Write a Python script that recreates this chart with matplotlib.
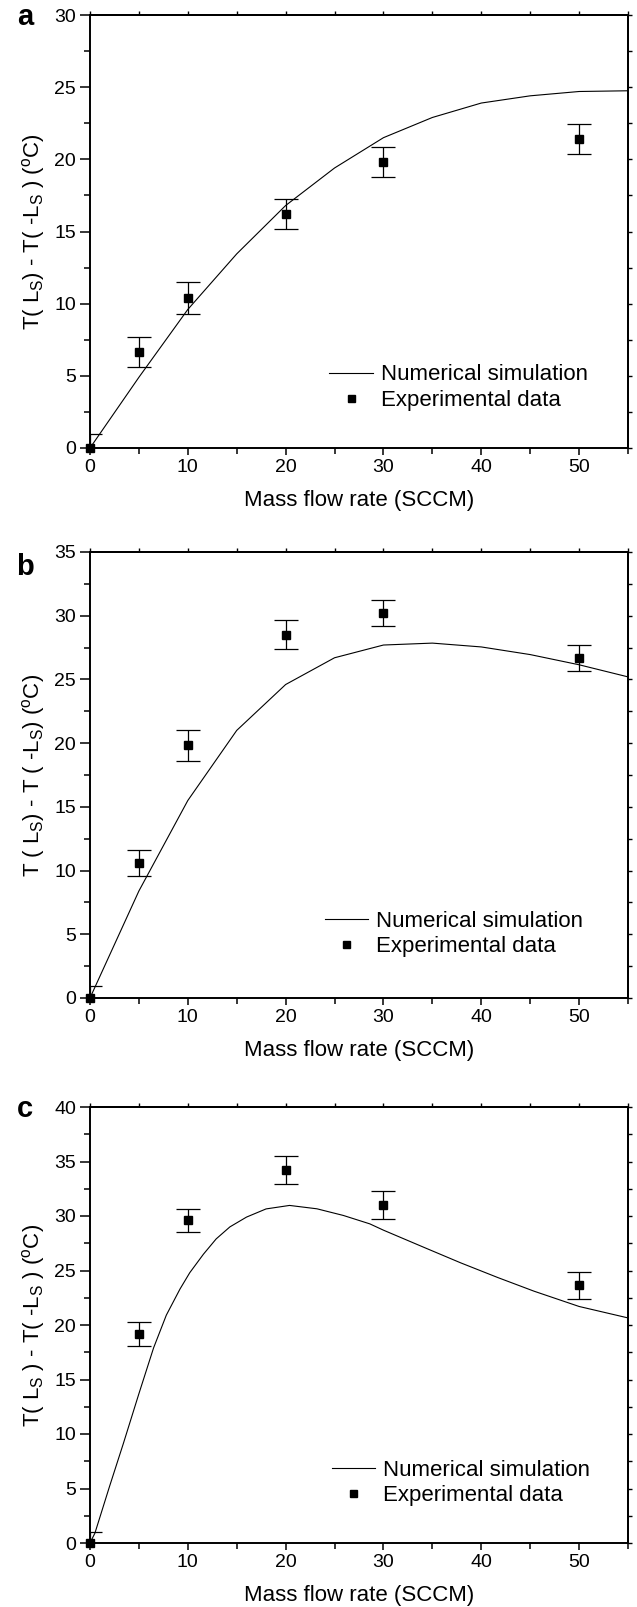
import matplotlib
matplotlib.use("Agg")
import matplotlib.pyplot as plt
from matplotlib.ticker import MultipleLocator

plt.rcParams['font.family'] = ['Liberation Sans', 'DejaVu Sans']
plt.rcParams['mathtext.fontset'] = 'custom'
plt.rcParams['mathtext.rm'] = 'Liberation Sans'
plt.rcParams['mathtext.it'] = 'Liberation Sans:italic'

# experimental points (same flow rates in every panel)
flow_exp = [0, 5, 10, 20, 30, 50]
a_exp = [0, 6.66, 10.4, 16.22, 19.8, 21.41]
a_err = [1.0, 1.02, 1.1, 1.04, 1.04, 1.05]
b_exp = [0, 10.58, 19.82, 28.51, 30.21, 26.68]
b_err = [0.97, 1.03, 1.2, 1.14, 1.05, 1.03]
c_exp = [0, 19.14, 29.6, 34.2, 31.02, 23.63]
c_err = [1.0, 1.1, 1.08, 1.3, 1.27, 1.22]

# numerical simulation curves
flow_sim_ab = [0, 5, 10, 15, 20, 25, 30, 35, 40, 45, 50, 55]
a_sim = [0, 4.9, 9.6, 13.45, 16.8, 19.4, 21.5, 22.9, 23.9, 24.4, 24.7, 24.75]
b_sim = [0, 8.4, 15.5, 21.0, 24.6, 26.7, 27.7, 27.85, 27.55, 26.95, 26.15, 25.2]
flow_sim_c = [0, 0.5, 2, 3.4, 5, 6.5, 7.8, 9.2, 10.2, 11.6, 12.9, 14.3, 16,
              18, 20.4, 23.2, 25.9, 28.6, 30, 34.2, 37.9, 41.7, 45.4, 50, 55]
c_sim = [0, 0.9, 5.2, 9.1, 13.7, 17.9, 20.9, 23.3, 24.8, 26.5, 27.9, 29.0, 29.9,
         30.65, 30.97, 30.66, 30.05, 29.28, 28.7, 27.1, 25.7, 24.35, 23.1, 21.7,
         20.65]

ylabels = [
    r"T( L$_\mathrm{S}$) - T( -L$_\mathrm{S}$ ) ($^\mathrm{o}$C)",
    r"T ( L$_\mathrm{S}$) - T ( -L$_\mathrm{S}$) ($^\mathrm{o}$C)",
    r"T( L$_\mathrm{S}$ ) - T( -L$_\mathrm{S}$ ) ($^\mathrm{o}$C)",
]

W, H = 637, 1607
fig = plt.figure(figsize=(W / 100, H / 100), dpi=100)

# pixel boxes: left, top, right, bottom
boxes = [(90, 15, 628, 448), (90, 552, 628, 998), (90, 1107, 628, 1543)]
ymaxes = [30, 35, 40]
panels = [
    (flow_sim_ab, a_sim, a_exp, a_err),
    (flow_sim_ab, b_sim, b_exp, b_err),
    (flow_sim_c, c_sim, c_exp, c_err),
]
legend_pos = [(0.445, 0.193), (0.436, 0.196), (0.449, 0.191)]
letters = ['a', 'b', 'c']
letter_y = [25, 575, 1117]

for i, (box, ymax, (sx, sy, ey, ee)) in enumerate(zip(boxes, ymaxes, panels)):
    l, t, r, b = box
    ax = fig.add_axes([l / W, 1 - b / H, (r - l) / W, (b - t) / H])

    line, = ax.plot(sx, sy, color='black', lw=0.8, solid_joinstyle='round',
                    label='Numerical simulation')
    ax.errorbar(flow_exp, ey, yerr=ee, fmt='none', ecolor='black',
                elinewidth=0.9, capsize=8.5, capthick=0.9)
    pts, = ax.plot(flow_exp, ey, 's', color='black', ms=5.6, clip_on=False,
                   zorder=5, label='Experimental data')

    ax.set_xlim(0, 55)
    ax.set_ylim(0, ymax)
    ax.xaxis.set_major_locator(MultipleLocator(10))
    ax.xaxis.set_minor_locator(MultipleLocator(5))
    ax.yaxis.set_major_locator(MultipleLocator(5))
    ax.yaxis.set_minor_locator(MultipleLocator(2.5))
    for s in ax.spines.values():
        s.set_linewidth(1.4)
    ax.tick_params(axis='both', which='both', direction='out', width=1.1,
                   labelsize=14)
    ax.tick_params(axis='x', which='major', length=5, pad=3)
    ax.tick_params(axis='x', which='minor', length=4)
    ax.tick_params(axis='y', which='major', length=7, pad=3)
    ax.tick_params(axis='y', which='minor', length=4)

    # short ticks on the top and right frame
    top = ax.secondary_xaxis('top')
    top.xaxis.set_major_locator(MultipleLocator(5))
    top.tick_params(length=3, width=1, labeltop=False)
    right = ax.secondary_yaxis('right')
    right.yaxis.set_major_locator(MultipleLocator(2.5))
    right.tick_params(length=3, width=1, labelright=False)
    for sec in (top, right):
        for s in sec.spines.values():
            s.set_linewidth(1.4)

    ax.set_xlabel("Mass flow rate (SCCM)", fontsize=16, labelpad=10)
    ax.set_ylabel(ylabels[i], fontsize=16)
    ax.yaxis.set_label_coords(-0.079, 0.5)

    ax.legend(handles=[line, pts], loc='upper left',
              bbox_to_anchor=legend_pos[i], frameon=False, fontsize=16,
              handlelength=1.95, handletextpad=0.35, labelspacing=0.2,
              borderpad=0, borderaxespad=0, markerscale=0.9)

    fig.text(25 / W, 1 - letter_y[i] / H, letters[i], fontsize=21,
             fontweight='bold', ha='center', va='baseline')

fig.savefig("out.png", dpi=100)
